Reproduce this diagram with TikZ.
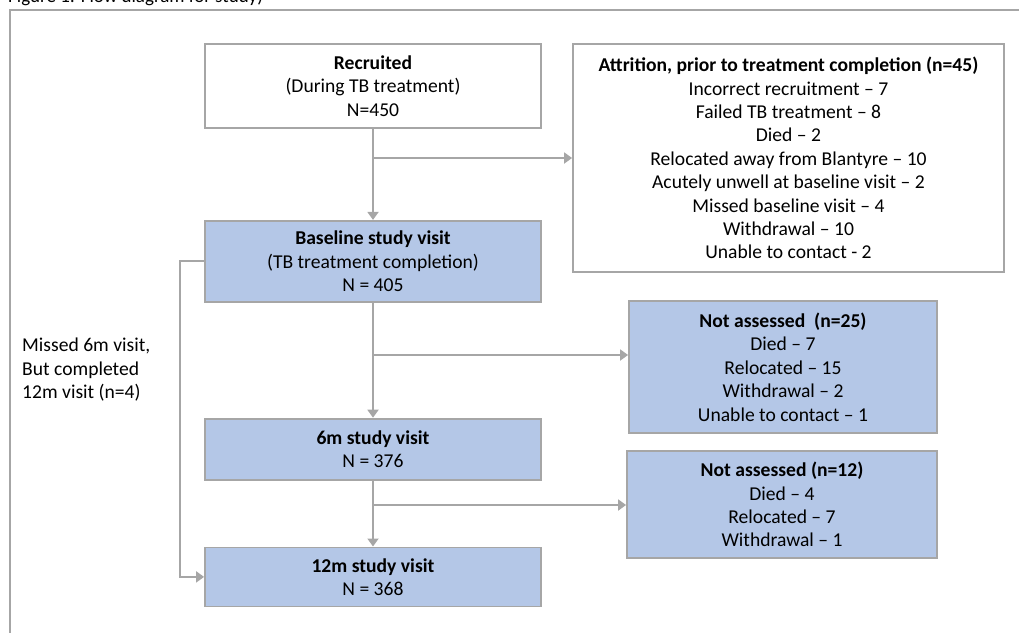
\documentclass[tikz,border=0pt]{standalone}
\usepackage{fontspec}
\setmainfont{Carlito}
\usetikzlibrary{arrows.meta,positioning}
\definecolor{boxblue}{HTML}{B4C7E7}
\definecolor{linegray}{HTML}{A6A6A6}
\tikzset{
    %Define standard arrow tip
    >={Triangle[length=8pt,width=11pt]},
    %Define style for boxes
    whiterect/.style={
           rectangle,
           draw=linegray, line width=1.8pt,
           inner sep=0pt,
           minimum width=336pt,
           font=\fontsize{19.6}{23.4}\selectfont,
           align=center},
    bluerect/.style={
           whiterect,
           fill=boxblue},
    % Define arrow style
    pil/.style={
           ->,
           draw=linegray,
           line width=1.8pt},
    frame/.style={
           draw=linegray,
           line width=1.6pt}
}
\begin{document}
\begin{tikzpicture}[x=1pt,y=-1pt]
\useasboundingbox (0,0) rectangle (1019,632);
% outer frame and caption
\draw[frame] (10,640) |- (1030,10);
\node[anchor=base west, inner sep=0pt, font=\fontsize{19}{23}\selectfont] (title) at (8,2) {Figure 1: Flow diagram for study)};
% main column
\node[whiterect, minimum height=84pt] (recruited) at (373,86)
  {\textbf{Recruited}\\(During TB treatment)\\N=450};
\node[bluerect, minimum height=81pt, below=91pt of recruited] (baseline)
  {\textbf{Baseline study visit}\\(TB treatment completion)\\N = 405};
\node[bluerect, minimum height=61pt, below=115pt of baseline] (visit6)
  {\textbf{6m study visit}\\N = 376};
\node[bluerect, minimum height=59pt, below=66pt of visit6] (visit12)
  {\textbf{12m study visit}\\N = 368};
% side boxes
\node[whiterect, minimum width=431pt, minimum height=228pt] (attrition) at (788.5,158)
  {\textbf{Attrition, prior to treatment completion (n=45)}\\
   Incorrect recruitment -- 7\\
   Failed TB treatment -- 8\\
   Died -- 2\\
   Relocated away from Blantyre -- 10\\
   Acutely unwell at baseline visit -- 2\\
   Missed baseline visit -- 4\\
   Withdrawal -- 10\\
   Unable to contact - 2};
\node[bluerect, minimum width=308pt, minimum height=132pt] (lost6) at (783,367)
  {\textbf{Not assessed\ \ (n=25)}\\
   Died -- 7\\
   Relocated -- 15\\
   Withdrawal -- 2\\
   Unable to contact -- 1};
\node[bluerect, minimum width=310pt, minimum height=107pt] (lost12) at (782,504.5)
  {\textbf{Not assessed (n=12)}\\
   Died -- 4\\
   Relocated -- 7\\
   Withdrawal -- 1};
\node[anchor=west, inner sep=0pt, align=left, font=\fontsize{19.6}{23.5}\selectfont] (missed) at (22,370)
  {Missed 6m visit,\\But completed\\12m visit (n=4)};
% connectors
\coordinate (b1) at (recruited.south |- attrition.west);
\coordinate (b2) at (373,355);
\coordinate (b3) at (373,505);
\draw[pil] (recruited) -- (baseline);
\draw[pil] (b1) -- (attrition.west);
\draw[pil] (baseline) -- (visit6);
\draw[pil] (b2) -- (b2 -| lost6.west);
\draw[pil] (visit6) -- (visit12);
\draw[pil] (b3) -- (b3 -| lost12.west);
\draw[pil] (baseline.west) -- ++(-24,0) |- (visit12.west);
\end{tikzpicture}
\end{document}
